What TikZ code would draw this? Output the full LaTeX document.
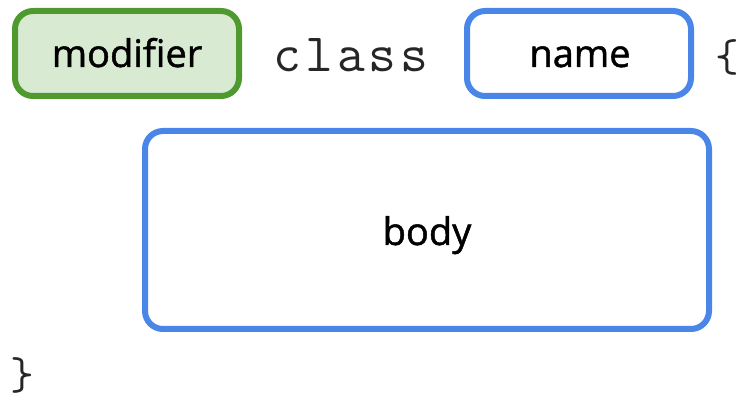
\documentclass[tikz,border=0pt]{standalone}
\usepackage{fontspec}
\setmainfont{Open Sans}[FakeBold=1.3]
\newfontfamily\labelfont{Open Sans}[FakeBold=1.3]
\newfontfamily\codefont{Latin Modern Mono}[LetterSpace=7]
\newfontfamily\bracefont{Latin Modern Mono}
\definecolor{gborder}{HTML}{4F9A2E}
\definecolor{gfill}{HTML}{D9EAD3}
\definecolor{bborder}{HTML}{4A86E8}
\tikzset{
  boxbase/.style={rounded corners=18pt, line width=6pt, inner sep=0pt},
  greenbox/.style={boxbase, draw=gborder, fill=gfill},
  bluebox/.style={boxbase, draw=bborder, fill=white},
  boxlabel/.style={inner sep=0pt, anchor=base, font=\labelfont\fontsize{38}{42}\selectfont},
  codetext/.style={inner sep=0pt, text=black!85, font=\codefont\fontsize{54}{60}\selectfont},
  bracetext/.style={inner sep=0pt, text=black!85, font=\bracefont\fontsize{46}{50}\selectfont},
}
\begin{document}
\begin{tikzpicture}[x=1pt,y=-1pt]
\useasboundingbox (0,0) rectangle (737,398);
\node[greenbox, minimum width=224pt, minimum height=85pt] (modifier) at (127,53.5) {};
\node[boxlabel] (modifierlabel) at (127,67) {modifier};
\node[codetext, anchor=base] (class) at (351,72) {class};
\node[bluebox, minimum width=224pt, minimum height=85pt] (name) at (579,53.5) {};
\node[boxlabel] (namelabel) at (580,67) {name};
\node[bracetext] (lbrace) at (727,57.5) {\{};
\node[bluebox, minimum width=564pt, minimum height=198pt] (body) at (427,230) {};
\node[boxlabel] (bodylabel) at (427,245) {body};
\node[bracetext] (rbrace) at (22.5,375) {\}};
\end{tikzpicture}
\end{document}
